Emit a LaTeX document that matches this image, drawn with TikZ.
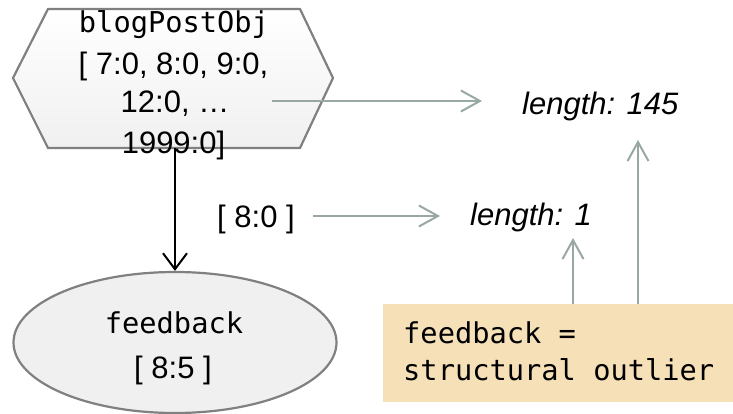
\documentclass[tikz,border=0pt]{standalone}
\usepackage{fontspec}
\setmainfont{Liberation Sans}
\newfontfamily\monofont{DejaVu Sans Mono}
\usetikzlibrary{arrows.meta,shapes.geometric}
\definecolor{edgegray}{HTML}{808080}
\definecolor{linkgreen}{HTML}{98A8A2}
\definecolor{notefill}{HTML}{F6E0B8}
\definecolor{nodefill}{HTML}{F0F0F0}
\tikzset{
  sanslbl/.style={font=\fontsize{31}{31}\selectfont, inner sep=0pt, anchor=base},
  monolbl/.style={font=\monofont\fontsize{28.7}{28.7}\selectfont, inner sep=0pt, anchor=base},
  itallbl/.style={font=\fontsize{31}{31}\selectfont\itshape, inner sep=0pt, anchor=base west},
  greenarrow/.style={draw=linkgreen, line width=2pt, -{Straight Barb[length=19pt,width=21pt,line width=2pt]}},
  blackarrow/.style={draw=black, line width=2pt, -{Straight Barb[length=16pt,width=24pt,line width=2pt]}},
}
\begin{document}
\begin{tikzpicture}[x=1pt,y=-1pt]
\useasboundingbox (0,0) rectangle (733,414);
% hexagon
\path[draw=edgegray, line width=2.2pt, top color=white, bottom color=nodefill]
  (48,9) -- (300,9) -- (333,78) -- (300,148) -- (48,148) -- (13,78) -- cycle;
\coordinate (hexbot) at (175,148);
\coordinate (hexright) at (272,101);
\node[monolbl] (h1) at (174,33) {blogPostObj};
\node[sanslbl] (h2) at (173.5,75) {[ 7:0, 8:0, 9:0,};
\node[sanslbl] (h3) at (175,113) {12:0, …};
\node[sanslbl] (h4) at (173.5,154) {1999:0]};
% ellipse
\node[ellipse, draw=edgegray, line width=2.2pt, fill=nodefill, minimum width=323pt, minimum height=141pt, inner sep=0pt] (fb) at (175,342.5) {};
\node[monolbl] (f1) at (174,333) {feedback};
\node[sanslbl] (f2) at (173,378) {[ 8:5 ]};
\draw[blackarrow] (hexbot) -- (fb.north);
% labels
\node[itallbl] (len145) at (522,115) {length: 145};
\node[sanslbl] (sel) at (256,227) {[ 8:0 ]};
\node[itallbl] (len1) at (470,225) {length: 1};
% note box
\node[draw=none, fill=notefill, minimum width=350pt, minimum height=98pt, inner sep=0pt] (note) at (558,353) {};
\node[monolbl, anchor=base west] (n1) at (403,343) {feedback =};
\node[monolbl, anchor=base west] (n2) at (403,380) {structural outlier};
% connectors
\coordinate (a1end) at (482,101);
\coordinate (a2start) at (313,216);
\coordinate (a2end) at (440,216);
\coordinate (a3start) at (573,304);
\coordinate (a3end) at (573,238);
\coordinate (a4start) at (638,304);
\coordinate (a4end) at (638,140);
\draw[greenarrow] (hexright) -- (a1end);
\draw[greenarrow] (a2start) -- (a2end);
\draw[greenarrow] (a3start) -- (a3end);
\draw[greenarrow] (a4start) -- (a4end);
\end{tikzpicture}
\end{document}
